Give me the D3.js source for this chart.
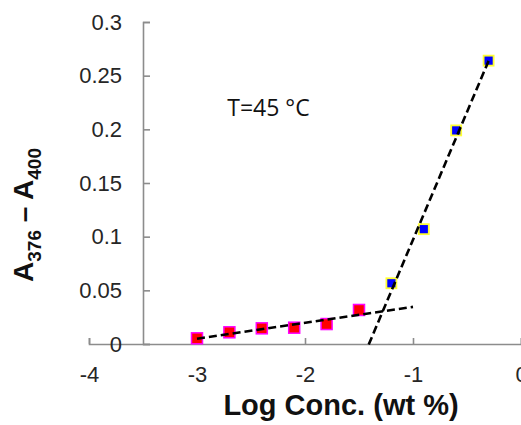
<!DOCTYPE html>
<html>
<head>
<meta charset="utf-8">
<script src="https://cdn.jsdelivr.net/npm/d3@7"></script>
<style>
    body { margin: 0; background: #fff; }
    svg { display: block; }
    .axis path, .axis line { stroke: #8c8c8c; stroke-width: 1.6; }
    .axis text { font-family: "Liberation Sans", Arial, sans-serif; font-size: 22px; fill: #262626; }
    .axis-title { font-family: "Liberation Sans", Arial, sans-serif; font-weight: bold; fill: #111; }
</style>
</head>
<body>
<div id="chart"></div>
<script>
// data
var lowX = [-3.0, -2.70, -2.40, -2.10, -1.80, -1.50];
var lowY = [0.0053, 0.0109, 0.0146, 0.0152, 0.0186, 0.0317];
var highX = [-1.20, -0.90, -0.60, -0.30];
var highY = [0.0566, 0.107, 0.199, 0.264];

// extent of the two trend lines (x values)
var lowFitX = [-3.0, -1.0];
var highFitX = [-1.41, -0.30];

var xTicks = [-4, -3, -2, -1, 0];
var yTicks = [0, 0.05, 0.1, 0.15, 0.2, 0.25, 0.3];

var width = 521, height = 425;

var svg = d3.select("#chart").append("svg")
    .attr("width", width)
    .attr("height", height);

var x = d3.scaleLinear().domain([-4, 0]).range([89, 521]);
var y = d3.scaleLinear().domain([0, 0.3]).range([344, 22]);

// axes, ticks point inward
var xAxis = d3.axisBottom(x)
    .tickValues(xTicks)
    .tickFormat(d3.format("d"))
    .tickSizeInner(-6)
    .tickSizeOuter(-6)
    .tickPadding(22);

var yAxis = d3.axisLeft(y)
    .tickValues(yTicks)
    .tickFormat(function(d){ return d === 0 ? "0" : String(+d.toFixed(2)); })
    .tickSizeInner(-7)
    .tickSizeOuter(-7)
    .tickPadding(21);

svg.append("g")
    .attr("class", "axis")
    .attr("transform", "translate(0," + y(0) + ")")
    .call(xAxis);

svg.append("g")
    .attr("class", "axis")
    .attr("transform", "translate(" + x(-3.5) + ",0)")
    .call(yAxis);

svg.selectAll(".axis text").each(function(){
    d3.select(this).text(d3.select(this).text().replace("\u2212", "-"));
});

// least squares fit
function fit(xs, ys){
    var mx = d3.mean(xs), my = d3.mean(ys);
    var sxy = d3.sum(xs, function(v, i){ return (v - mx) * (ys[i] - my); });
    var sxx = d3.sum(xs, function(v){ return (v - mx) * (v - mx); });
    var m = sxy / sxx;
    return { m: m, b: my - m * mx };
}

function zip(xs, ys){ return xs.map(function(v, i){ return { x: v, y: ys[i] }; }); }

// markers
svg.selectAll(".low").data(zip(lowX, lowY)).enter().append("rect")
    .attr("class", "low")
    .attr("x", function(d){ return x(d.x) - 5.5; })
    .attr("y", function(d){ return y(d.y) - 5.5; })
    .attr("width", 11).attr("height", 11)
    .style("fill", "#ff0000")
    .style("stroke", "#ff00ff")
    .style("stroke-width", 1.5);

svg.selectAll(".high").data(zip(highX, highY)).enter().append("rect")
    .attr("class", "high")
    .attr("x", function(d){ return x(d.x) - 5; })
    .attr("y", function(d){ return y(d.y) - 5; })
    .attr("width", 10).attr("height", 10)
    .style("fill", "#0000ff")
    .style("stroke", "#ffff33")
    .style("stroke-width", 1.8);

// dashed trend lines
var line = d3.line().x(function(d){ return x(d.x); }).y(function(d){ return y(d.y); });

[[lowX, lowY, lowFitX], [highX, highY, highFitX]].forEach(function(s){
    var f = fit(s[0], s[1]);
    var pts = s[2].map(function(v){ return { x: v, y: f.m * v + f.b }; });
    svg.append("path")
        .datum(pts)
        .attr("d", line)
        .style("fill", "none")
        .style("stroke", "#000")
        .style("stroke-width", 2.6)
        .style("stroke-dasharray", "8,4");
});

// annotation
svg.append("text")
    .attr("x", x(-2.72))
    .attr("y", y(0.212))
    .style("font-family", "'Open Sans', sans-serif")
    .style("font-size", "23px")
    .style("fill", "#111")
    .text("T=45 \u00B0C");

// axis titles
svg.append("text")
    .attr("class", "axis-title")
    .attr("x", 341)
    .attr("y", 415)
    .attr("text-anchor", "middle")
    .style("font-size", "29px")
    .text("Log Conc. (wt %)");

var yt = svg.append("text")
    .attr("class", "axis-title")
    .attr("text-anchor", "middle")
    .attr("transform", "translate(33,215) rotate(-90)")
    .style("font-size", "28px");
yt.append("tspan").text("A");
yt.append("tspan").attr("dy", 8).style("font-size", "19px").text("376");
yt.append("tspan").attr("dy", -8).text(" \u2013 A");
yt.append("tspan").attr("dy", 8).style("font-size", "19px").text("400");
</script>
</body>
</html>
